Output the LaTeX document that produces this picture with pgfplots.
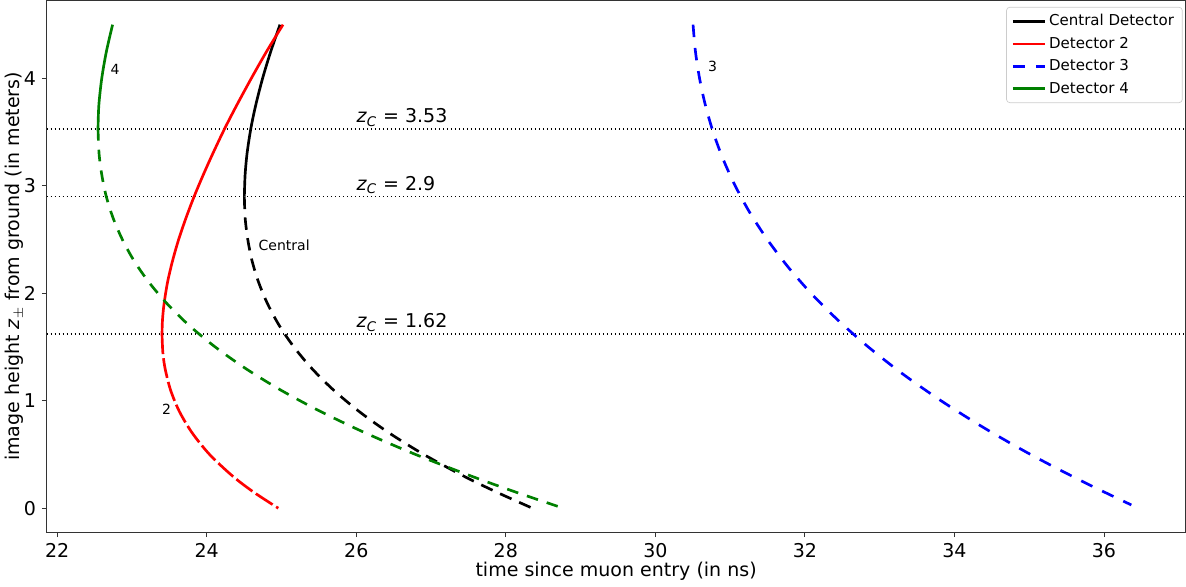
\documentclass[border=0pt]{standalone}
\usepackage{fontspec}
\setmainfont{DejaVu Sans}
\usepackage{amsmath}
\usepackage{pgfplots}
\pgfplotsset{compat=1.18}
\definecolor{mplgreen}{HTML}{008000}

\begin{document}
\begin{tikzpicture}
\begin{axis}[
    scale only axis,
    width=683pt, height=319pt,
    xmin=21.86, xmax=37.09,
    ymin=-0.225, ymax=4.725,
    xtick={22,24,...,36},
    ytick={0,1,2,3,4},
    tick align=outside, tick pos=left,
    major tick length=2.9pt,
    axis line style={draw=black!80, line width=0.6pt},
    every tick/.style={black!80, line width=0.6pt},
    /pgf/number format/assume math mode=true,
    tick label style={font=\fontsize{11.4}{13}\selectfont},
    label style={font=\fontsize{11.4}{13}\selectfont},
    xlabel={time since muon entry (in ns)},
    ylabel={image height \textit{z}$_{\pm}$ from ground (in meters)},
    xlabel style={yshift=4pt},
    ylabel style={yshift=-7pt},
    legend style={at={(0.9975,0.988)}, anchor=north east, draw=black!20,
        rounded corners=2pt, font=\fontsize{9}{11}\selectfont,
        row sep=1.3pt, inner xsep=3pt, inner ysep=2.3pt},
    legend cell align=left,
    legend image code/.code={\draw[#1] (0pt,0pt) -- (19pt,0pt);},
]

% legend entries
\addlegendimage{black, line width=1.6pt}
\addlegendentry{Central Detector}
\addlegendimage{red, line width=1.6pt}
\addlegendentry{Detector 2}
\addlegendimage{blue, line width=1.6pt, dash pattern=on 7.5pt off 6.5pt}
\addlegendentry{Detector 3}
\addlegendimage{mplgreen, line width=1.6pt}
\addlegendentry{Detector 4}

% reference heights
\addplot[black, line width=0.8pt, dash pattern=on 0.8pt off 1.6pt, forget plot]
    coordinates {(21.86,3.53) (37.09,3.53)};
\addplot[black, line width=0.8pt, dash pattern=on 0.8pt off 1.6pt, forget plot]
    coordinates {(21.86,2.90) (37.09,2.90)};
\addplot[black, line width=0.8pt, dash pattern=on 0.8pt off 1.6pt, forget plot]
    coordinates {(21.86,1.62) (37.09,1.62)};

% central detector
\addplot[black, line width=1.6pt, smooth, forget plot] coordinates {
    (24.980,4.50) (24.856,4.25) (24.747,4.00) (24.655,3.75) (24.589,3.53)
    (24.539,3.30) (24.513,3.10) (24.503,2.90)};
\addplot[black, line width=1.6pt, smooth, dash pattern=on 7.5pt off 5pt, forget plot] coordinates {
    (24.503,2.90) (24.514,2.70) (24.549,2.50) (24.607,2.30) (24.695,2.10)
    (24.815,1.90) (24.970,1.70) (25.166,1.50) (25.406,1.30) (25.695,1.10)
    (26.038,0.90) (26.440,0.70) (26.903,0.50) (27.433,0.30) (27.875,0.15)
    (28.355,0.00)};

% detector 2
\addplot[red, line width=1.6pt, smooth, forget plot] coordinates {
    (25.020,4.50) (24.800,4.25) (24.596,4.00) (24.401,3.75) (24.238,3.53)
    (24.081,3.30) (23.952,3.10) (23.831,2.90) (23.722,2.70) (23.624,2.50)
    (23.542,2.30) (23.475,2.10) (23.429,1.90) (23.408,1.75) (23.402,1.62)};
\addplot[red, line width=1.6pt, smooth, dash pattern=on 12pt off 2.5pt, forget plot] coordinates {
    (23.402,1.62) (23.413,1.45) (23.443,1.30) (23.516,1.10) (23.634,0.90)
    (23.806,0.70) (24.038,0.50) (24.344,0.30) (24.626,0.15) (24.957,0.00)};

% detector 3
\addplot[blue, line width=1.6pt, smooth, dash pattern=on 7.5pt off 6.5pt, forget plot] coordinates {
    (30.504,4.50) (30.536,4.25) (30.591,4.00) (30.669,3.75) (30.773,3.50)
    (30.905,3.25) (31.068,3.00) (31.264,2.75) (31.498,2.50) (31.769,2.25)
    (32.082,2.00) (32.442,1.75) (32.849,1.50) (33.307,1.25) (33.821,1.00)
    (34.390,0.75) (35.018,0.50) (35.709,0.25) (36.366,0.03)};

% detector 4
\addplot[mplgreen, line width=1.6pt, smooth, forget plot] coordinates {
    (22.741,4.50) (22.658,4.25) (22.596,4.00) (22.557,3.75) (22.546,3.53)};
\addplot[mplgreen, line width=1.6pt, smooth, dash pattern=on 7pt off 5.5pt, forget plot] coordinates {
    (22.546,3.53) (22.560,3.30) (22.597,3.10) (22.657,2.90) (22.748,2.70)
    (22.872,2.50) (23.030,2.30) (23.230,2.10) (23.474,1.90) (23.766,1.70)
    (24.114,1.50) (24.520,1.30) (24.988,1.10) (25.522,0.90) (26.123,0.70)
    (26.793,0.50) (27.533,0.30) (28.132,0.15) (28.768,0.00)};

% labels
\node[anchor=base west, inner sep=0pt, font=\fontsize{11.4}{13}\selectfont]
    at (axis cs:26.0,3.59) {\textit{z}\textsubscript{\textit{C}} = 3.53};
\node[anchor=base west, inner sep=0pt, font=\fontsize{11.4}{13}\selectfont]
    at (axis cs:26.0,2.96) {\textit{z}\textsubscript{\textit{C}} = 2.9};
\node[anchor=base west, inner sep=0pt, font=\fontsize{11.4}{13}\selectfont]
    at (axis cs:26.0,1.68) {\textit{z}\textsubscript{\textit{C}} = 1.62};
\node[anchor=west, inner sep=0pt, font=\fontsize{8.4}{10}\selectfont]
    at (axis cs:24.69,2.45) {Central};
\node[anchor=west, inner sep=0pt, font=\fontsize{8.4}{10}\selectfont]
    at (axis cs:23.40,0.92) {2};
\node[anchor=west, inner sep=0pt, font=\fontsize{8.4}{10}\selectfont]
    at (axis cs:30.70,4.11) {3};
\node[anchor=west, inner sep=0pt, font=\fontsize{8.4}{10}\selectfont]
    at (axis cs:22.71,4.08) {4};
\end{axis}
\end{tikzpicture}
\end{document}
